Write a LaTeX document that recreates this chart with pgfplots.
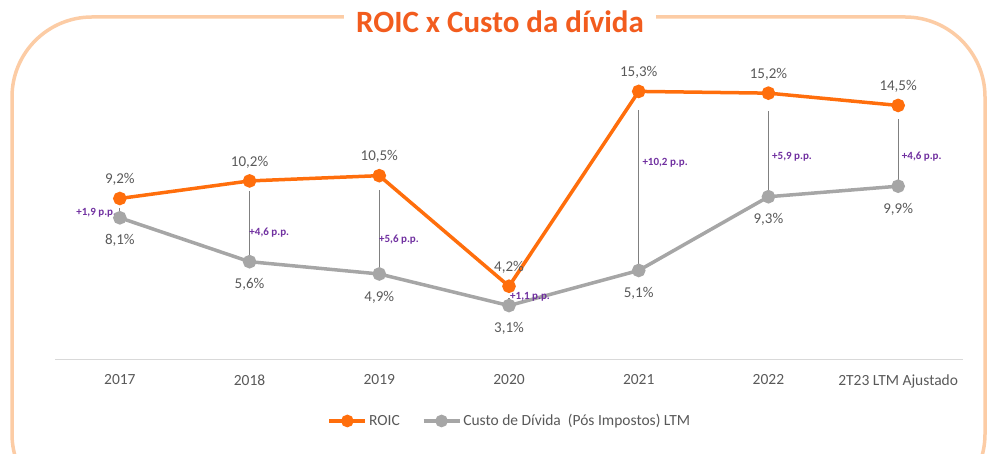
\documentclass[border=0pt]{standalone}
\usepackage{fontspec}
\setmainfont{Carlito}
\usepackage{pgfplots}
\pgfplotsset{compat=1.18}
\definecolor{roic}{RGB}{255,110,12}
\definecolor{custo}{RGB}{166,166,166}
\definecolor{lbl}{RGB}{89,89,89}
\definecolor{purp}{RGB}{112,48,160}
\definecolor{frame}{RGB}{252,204,165}
\definecolor{titlec}{RGB}{242,92,30}
\definecolor{vline}{RGB}{128,128,128}
\definecolor{axl}{RGB}{217,217,217}
\begin{document}
\begin{tikzpicture}[x=1pt,y=1pt]
\useasboundingbox (0,0) rectangle (992,454);
\clip (0,0) rectangle (992,454);
\draw[frame, line width=3.5pt, rounded corners=80pt] (12,-60) rectangle (985,437);
\begin{axis}[
  at={(55pt,94pt)}, anchor=south west,
  scale only axis, width=908pt, height=316pt,
  xmin=-0.5, xmax=6.5, ymin=0, ymax=18,
  axis y line=none, axis x line*=bottom,
  x axis line style={axl, line width=1pt, -},
  xtick={0,...,6},
  xticklabels={2017,2018,2019,2020,2021,2022,2T23 LTM Ajustado},
  major tick length=0pt,
  xticklabel style={font=\fontsize{15.5}{17}\selectfont, text=lbl, yshift=-11pt},
  clip=false,
  legend style={at={(0.501,-0.193)}, anchor=center, draw=none, legend columns=2,
    font=\fontsize{15.5}{17}\selectfont, text=lbl,
    /tikz/every even column/.append style={column sep=20pt}},
  legend image code/.code={
    \draw[#1, mark=none] (0pt,0pt) -- (36pt,0pt);
    \fill[#1] (18pt,0pt) circle (4.5pt);},
  nodes near coords, point meta=explicit symbolic,
]
% difference lines
\addplot[vline, line width=1.2pt, forget plot, nodes near coords={}] coordinates {(0,8.1) (0,8.65)};
\addplot[vline, line width=1.2pt, forget plot, nodes near coords={}] coordinates {(1,5.6) (1,9.6)};
\addplot[vline, line width=1.2pt, forget plot, nodes near coords={}] coordinates {(2,4.9) (2,9.7)};
\addplot[vline, line width=1.2pt, forget plot, nodes near coords={}] coordinates {(3,3.1) (3,3.55)};
\addplot[vline, line width=1.2pt, forget plot, nodes near coords={}] coordinates {(4,5.1) (4,14.25)};
\addplot[vline, line width=1.2pt, forget plot, nodes near coords={}] coordinates {(5,9.3) (5,14.2)};
\addplot[vline, line width=1.2pt, forget plot, nodes near coords={}] coordinates {(6,9.9) (6,13.7)};
% ROIC
\addplot[roic, line width=3.5pt, mark=*, mark size=5pt,
  every node near coord/.style={text=lbl, font=\fontsize{15}{17}\selectfont, anchor=center, yshift=19pt}]
  coordinates {(0,9.2)[9,2\%] (1,10.2)[10,2\%] (2,10.5)[10,5\%] (3,4.2)[4,2\%] (4,15.3)[15,3\%] (5,15.2)[15,2\%] (6,14.5)[14,5\%]};
\addlegendentry{ROIC}
% Custo
\addplot[custo, line width=3.5pt, mark=*, mark size=5pt,
  every node near coord/.style={text=lbl, font=\fontsize{15}{17}\selectfont, anchor=center, yshift=-23pt}]
  coordinates {(0,8.1)[8,1\%] (1,5.6)[5,6\%] (2,4.9)[4,9\%] (3,3.1)[3,1\%] (4,5.1)[5,1\%] (5,9.3)[9,3\%] (6,9.9)[9,9\%]};
\addlegendentry{Custo de Dívida\ \ (Pós Impostos) LTM}
% annotations
\begin{scope}[every node/.style={text=purp, font=\fontsize{11}{13}\selectfont\bfseries}]
\node[anchor=east, inner xsep=1pt] at (axis cs:-0.02,8.38) {+1,9 p.p.};
\node[anchor=west, inner xsep=1pt] at (axis cs:0.99,7.24) {+4,6 p.p.};
\node[anchor=west, inner xsep=1pt] at (axis cs:1.99,6.84) {+5,6 p.p.};
\node[anchor=west, inner xsep=1pt] at (axis cs:3.0,3.59) {+1,1 p.p.};
\node[anchor=west, inner xsep=1pt] at (axis cs:4.02,11.23) {+10,2 p.p.};
\node[anchor=west, inner xsep=1pt] at (axis cs:5.02,11.57) {+5,9 p.p.};
\node[anchor=west, inner xsep=1pt] at (axis cs:6.02,11.57) {+4,6 p.p.};
\end{scope}
\end{axis}
\node[fill=white, inner xsep=12pt, text=titlec, font=\fontsize{31}{34}\selectfont\bfseries] at (500,432) {ROIC x Custo da dívida};
\end{tikzpicture}
\end{document}
